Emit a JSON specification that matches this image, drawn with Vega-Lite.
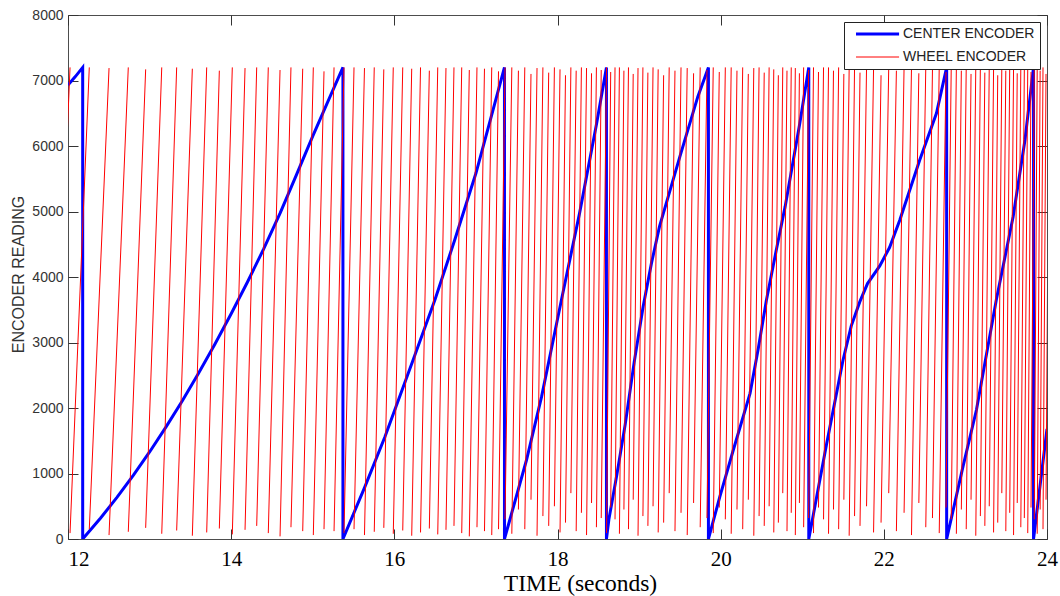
{
  "$schema": "https://vega.github.io/schema/vega-lite/v6.json",
  "width": 979,
  "height": 524,
  "autosize": "none",
  "padding": {"left": 68, "top": 15, "right": 13, "bottom": 57},
  "background": "white",
  "config": {
    "view": {"stroke": "#4d4d4d", "strokeWidth": 1},
    "axis": {"grid": false, "domain": false, "tickColor": "#333333", "tickSize": -10, "tickWidth": 1}
  },
  "datasets": {
    "center": [
      {"t": 12.0, "v": 6930}, {"t": 12.09, "v": 7060}, {"t": 12.18, "v": 7200}, {"t": 12.18, "v": 0},
      {"t": 12.4, "v": 321}, {"t": 12.6, "v": 635}, {"t": 12.8, "v": 971}, {"t": 13.0, "v": 1329},
      {"t": 13.2, "v": 1708}, {"t": 13.4, "v": 2108}, {"t": 13.6, "v": 2530}, {"t": 13.8, "v": 2973},
      {"t": 14.0, "v": 3438}, {"t": 14.2, "v": 3924}, {"t": 14.4, "v": 4432}, {"t": 14.6, "v": 4975},
      {"t": 14.8, "v": 5560}, {"t": 15.0, "v": 6150}, {"t": 15.2, "v": 6720},
      {"t": 15.37, "v": 7200}, {"t": 15.37, "v": 0},
      {"t": 15.64, "v": 800}, {"t": 15.885, "v": 1562}, {"t": 16.23, "v": 2733}, {"t": 16.5, "v": 3660},
      {"t": 16.74, "v": 4565}, {"t": 17.0, "v": 5583}, {"t": 17.21, "v": 6550}, {"t": 17.35, "v": 7200}, {"t": 17.35, "v": 0},
      {"t": 17.62, "v": 1206}, {"t": 17.805, "v": 2173}, {"t": 18.05, "v": 3660}, {"t": 18.27, "v": 4972},
      {"t": 18.48, "v": 6347}, {"t": 18.6, "v": 7200}, {"t": 18.6, "v": 0},
      {"t": 18.63, "v": 300}, {"t": 18.73, "v": 1000}, {"t": 18.83, "v": 1750}, {"t": 18.94, "v": 2700},
      {"t": 19.05, "v": 3550}, {"t": 19.15, "v": 4200}, {"t": 19.25, "v": 4768},
      {"t": 19.5, "v": 5837}, {"t": 19.72, "v": 6753}, {"t": 19.85, "v": 7200}, {"t": 19.85, "v": 0},
      {"t": 19.99, "v": 646}, {"t": 20.155, "v": 1359}, {"t": 20.36, "v": 2224}, {"t": 20.46, "v": 2900},
      {"t": 20.56, "v": 3640}, {"t": 20.68, "v": 4400},
      {"t": 20.79, "v": 5074}, {"t": 20.97, "v": 6347}, {"t": 21.08, "v": 7200}, {"t": 21.08, "v": 0},
      {"t": 21.3, "v": 1461}, {"t": 21.5, "v": 2733}, {"t": 21.6, "v": 3250}, {"t": 21.705, "v": 3620},
      {"t": 21.8, "v": 3900}, {"t": 21.95, "v": 4170}, {"t": 22.07, "v": 4450},
      {"t": 22.196, "v": 4870}, {"t": 22.44, "v": 5786}, {"t": 22.645, "v": 6499}, {"t": 22.77, "v": 7200}, {"t": 22.77, "v": 0},
      {"t": 22.97, "v": 1104}, {"t": 23.135, "v": 1969}, {"t": 23.38, "v": 3660}, {"t": 23.585, "v": 4920},
      {"t": 23.73, "v": 6092}, {"t": 23.835, "v": 7200}, {"t": 23.835, "v": 0},
      {"t": 24.0, "v": 1680}
    ],
    "wheel": [
      {"a": 11.785, "b": 12.025, "lo": 120, "hi": 7200},
      {"a": 12.025, "b": 12.261, "lo": 90, "hi": 7200},
      {"a": 12.261, "b": 12.503, "lo": 150, "hi": 7190},
      {"a": 12.503, "b": 12.739, "lo": 60, "hi": 7200},
      {"a": 12.739, "b": 12.952, "lo": 110, "hi": 7170},
      {"a": 12.952, "b": 13.149, "lo": 170, "hi": 7200},
      {"a": 13.149, "b": 13.332, "lo": 80, "hi": 7200},
      {"a": 13.332, "b": 13.524, "lo": 130, "hi": 7180},
      {"a": 13.524, "b": 13.7, "lo": 50, "hi": 7200},
      {"a": 13.7, "b": 13.855, "lo": 100, "hi": 7150},
      {"a": 13.855, "b": 14.014, "lo": 160, "hi": 7200},
      {"a": 14.014, "b": 14.17, "lo": 70, "hi": 7190},
      {"a": 14.17, "b": 14.313, "lo": 140, "hi": 7200},
      {"a": 14.313, "b": 14.455, "lo": 200, "hi": 7200},
      {"a": 14.455, "b": 14.599, "lo": 90, "hi": 7160},
      {"a": 14.599, "b": 14.733, "lo": 40, "hi": 7200},
      {"a": 14.733, "b": 14.877, "lo": 180, "hi": 7180},
      {"a": 14.877, "b": 15.007, "lo": 120, "hi": 7200},
      {"a": 15.007, "b": 15.138, "lo": 60, "hi": 7140},
      {"a": 15.138, "b": 15.261, "lo": 150, "hi": 7200},
      {"a": 15.261, "b": 15.383, "lo": 120, "hi": 7200},
      {"a": 15.383, "b": 15.506, "lo": 90, "hi": 7200},
      {"a": 15.506, "b": 15.634, "lo": 150, "hi": 7190},
      {"a": 15.634, "b": 15.754, "lo": 60, "hi": 7200},
      {"a": 15.754, "b": 15.871, "lo": 110, "hi": 7170},
      {"a": 15.871, "b": 15.987, "lo": 170, "hi": 7200},
      {"a": 15.987, "b": 16.103, "lo": 80, "hi": 7200},
      {"a": 16.103, "b": 16.213, "lo": 130, "hi": 7180},
      {"a": 16.213, "b": 16.321, "lo": 50, "hi": 7200},
      {"a": 16.321, "b": 16.429, "lo": 100, "hi": 7150},
      {"a": 16.429, "b": 16.532, "lo": 160, "hi": 7200},
      {"a": 16.532, "b": 16.633, "lo": 70, "hi": 7190},
      {"a": 16.633, "b": 16.731, "lo": 140, "hi": 7200},
      {"a": 16.731, "b": 16.826, "lo": 200, "hi": 7200},
      {"a": 16.826, "b": 16.919, "lo": 90, "hi": 7160},
      {"a": 16.919, "b": 17.013, "lo": 40, "hi": 7200},
      {"a": 17.013, "b": 17.105, "lo": 180, "hi": 7180},
      {"a": 17.105, "b": 17.194, "lo": 120, "hi": 7200},
      {"a": 17.194, "b": 17.277, "lo": 60, "hi": 7140},
      {"a": 17.277, "b": 17.357, "lo": 150, "hi": 7200},
      {"a": 17.357, "b": 17.44, "lo": 300, "hi": 7200},
      {"a": 17.44, "b": 17.521, "lo": 80, "hi": 7150},
      {"a": 17.521, "b": 17.599, "lo": 450, "hi": 7200},
      {"a": 17.599, "b": 17.675, "lo": 150, "hi": 7100},
      {"a": 17.675, "b": 17.749, "lo": 600, "hi": 7190},
      {"a": 17.749, "b": 17.821, "lo": 50, "hi": 7200},
      {"a": 17.821, "b": 17.892, "lo": 350, "hi": 7120},
      {"a": 17.892, "b": 17.962, "lo": 200, "hi": 7200},
      {"a": 17.962, "b": 18.031, "lo": 500, "hi": 7170},
      {"a": 18.031, "b": 18.098, "lo": 100, "hi": 7080},
      {"a": 18.098, "b": 18.164, "lo": 250, "hi": 7200},
      {"a": 18.164, "b": 18.229, "lo": 700, "hi": 7150},
      {"a": 18.229, "b": 18.293, "lo": 120, "hi": 7200},
      {"a": 18.293, "b": 18.356, "lo": 400, "hi": 7190},
      {"a": 18.356, "b": 18.417, "lo": 60, "hi": 7110},
      {"a": 18.417, "b": 18.477, "lo": 550, "hi": 7200},
      {"a": 18.477, "b": 18.536, "lo": 180, "hi": 7160},
      {"a": 18.536, "b": 18.601, "lo": 320, "hi": 7200},
      {"a": 18.601, "b": 18.652, "lo": 90, "hi": 7130},
      {"a": 18.652, "b": 18.705, "lo": 480, "hi": 7200},
      {"a": 18.705, "b": 18.759, "lo": 300, "hi": 7200},
      {"a": 18.759, "b": 18.814, "lo": 80, "hi": 7150},
      {"a": 18.814, "b": 18.87, "lo": 450, "hi": 7200},
      {"a": 18.87, "b": 18.928, "lo": 150, "hi": 7100},
      {"a": 18.928, "b": 18.987, "lo": 600, "hi": 7190},
      {"a": 18.987, "b": 19.047, "lo": 50, "hi": 7200},
      {"a": 19.047, "b": 19.108, "lo": 350, "hi": 7120},
      {"a": 19.108, "b": 19.171, "lo": 200, "hi": 7200},
      {"a": 19.171, "b": 19.234, "lo": 500, "hi": 7170},
      {"a": 19.234, "b": 19.301, "lo": 100, "hi": 7080},
      {"a": 19.301, "b": 19.369, "lo": 250, "hi": 7200},
      {"a": 19.369, "b": 19.44, "lo": 700, "hi": 7150},
      {"a": 19.44, "b": 19.514, "lo": 120, "hi": 7200},
      {"a": 19.514, "b": 19.59, "lo": 400, "hi": 7190},
      {"a": 19.59, "b": 19.668, "lo": 60, "hi": 7110},
      {"a": 19.668, "b": 19.749, "lo": 550, "hi": 7200},
      {"a": 19.749, "b": 19.832, "lo": 180, "hi": 7160},
      {"a": 19.832, "b": 19.909, "lo": 320, "hi": 7200},
      {"a": 19.909, "b": 19.983, "lo": 90, "hi": 7130},
      {"a": 19.983, "b": 20.057, "lo": 480, "hi": 7200},
      {"a": 20.057, "b": 20.129, "lo": 300, "hi": 7200},
      {"a": 20.129, "b": 20.2, "lo": 80, "hi": 7150},
      {"a": 20.2, "b": 20.27, "lo": 450, "hi": 7200},
      {"a": 20.27, "b": 20.339, "lo": 150, "hi": 7100},
      {"a": 20.339, "b": 20.406, "lo": 600, "hi": 7190},
      {"a": 20.406, "b": 20.471, "lo": 50, "hi": 7200},
      {"a": 20.471, "b": 20.534, "lo": 350, "hi": 7120},
      {"a": 20.534, "b": 20.594, "lo": 200, "hi": 7200},
      {"a": 20.594, "b": 20.651, "lo": 500, "hi": 7170},
      {"a": 20.651, "b": 20.707, "lo": 100, "hi": 7080},
      {"a": 20.707, "b": 20.761, "lo": 250, "hi": 7200},
      {"a": 20.761, "b": 20.813, "lo": 700, "hi": 7150},
      {"a": 20.813, "b": 20.865, "lo": 120, "hi": 7200},
      {"a": 20.865, "b": 20.915, "lo": 400, "hi": 7190},
      {"a": 20.915, "b": 20.965, "lo": 60, "hi": 7110},
      {"a": 20.965, "b": 21.017, "lo": 550, "hi": 7200},
      {"a": 21.017, "b": 21.078, "lo": 180, "hi": 7160},
      {"a": 21.078, "b": 21.138, "lo": 320, "hi": 7200},
      {"a": 21.138, "b": 21.199, "lo": 90, "hi": 7130},
      {"a": 21.199, "b": 21.261, "lo": 480, "hi": 7200},
      {"a": 21.261, "b": 21.322, "lo": 300, "hi": 7200},
      {"a": 21.322, "b": 21.383, "lo": 80, "hi": 7150},
      {"a": 21.383, "b": 21.446, "lo": 450, "hi": 7200},
      {"a": 21.446, "b": 21.51, "lo": 150, "hi": 7100},
      {"a": 21.51, "b": 21.575, "lo": 600, "hi": 7190},
      {"a": 21.575, "b": 21.641, "lo": 50, "hi": 7200},
      {"a": 21.641, "b": 21.708, "lo": 350, "hi": 7120},
      {"a": 21.708, "b": 21.788, "lo": 200, "hi": 7200},
      {"a": 21.788, "b": 21.874, "lo": 500, "hi": 7170},
      {"a": 21.874, "b": 21.966, "lo": 100, "hi": 7080},
      {"a": 21.966, "b": 22.06, "lo": 250, "hi": 7200},
      {"a": 22.06, "b": 22.154, "lo": 700, "hi": 7150},
      {"a": 22.154, "b": 22.248, "lo": 120, "hi": 7200},
      {"a": 22.248, "b": 22.339, "lo": 400, "hi": 7190},
      {"a": 22.339, "b": 22.429, "lo": 60, "hi": 7110},
      {"a": 22.429, "b": 22.514, "lo": 550, "hi": 7200},
      {"a": 22.514, "b": 22.596, "lo": 180, "hi": 7160},
      {"a": 22.596, "b": 22.679, "lo": 320, "hi": 7200},
      {"a": 22.679, "b": 22.762, "lo": 90, "hi": 7130},
      {"a": 22.762, "b": 22.826, "lo": 480, "hi": 7200},
      {"a": 22.826, "b": 22.889, "lo": 300, "hi": 7200},
      {"a": 22.889, "b": 22.95, "lo": 80, "hi": 7150},
      {"a": 22.95, "b": 23.01, "lo": 450, "hi": 7200},
      {"a": 23.01, "b": 23.069, "lo": 150, "hi": 7100},
      {"a": 23.069, "b": 23.127, "lo": 600, "hi": 7190},
      {"a": 23.127, "b": 23.183, "lo": 50, "hi": 7200},
      {"a": 23.183, "b": 23.238, "lo": 350, "hi": 7120},
      {"a": 23.238, "b": 23.292, "lo": 200, "hi": 7200},
      {"a": 23.292, "b": 23.345, "lo": 500, "hi": 7170},
      {"a": 23.345, "b": 23.396, "lo": 100, "hi": 7080},
      {"a": 23.396, "b": 23.446, "lo": 250, "hi": 7200},
      {"a": 23.446, "b": 23.495, "lo": 700, "hi": 7150},
      {"a": 23.495, "b": 23.543, "lo": 120, "hi": 7200},
      {"a": 23.543, "b": 23.59, "lo": 400, "hi": 7190},
      {"a": 23.59, "b": 23.635, "lo": 60, "hi": 7110},
      {"a": 23.635, "b": 23.679, "lo": 550, "hi": 7200},
      {"a": 23.679, "b": 23.722, "lo": 180, "hi": 7160},
      {"a": 23.722, "b": 23.764, "lo": 320, "hi": 7200},
      {"a": 23.764, "b": 23.804, "lo": 90, "hi": 7130},
      {"a": 23.804, "b": 23.844, "lo": 480, "hi": 7200},
      {"a": 23.844, "b": 23.88, "lo": 300, "hi": 7200},
      {"a": 23.88, "b": 23.916, "lo": 80, "hi": 7150},
      {"a": 23.916, "b": 23.951, "lo": 450, "hi": 7200},
      {"a": 23.951, "b": 23.988, "lo": 150, "hi": 7100},
      {"a": 23.988, "b": 24.025, "lo": 600, "hi": 7190}
    ]
  },
  "layer": [
    {
      "data": {"name": "center"},
      "mark": {"type": "line", "clip": true},
      "encoding": {
        "x": {
          "field": "t", "type": "quantitative",
          "scale": {"domain": [12, 24], "nice": false, "zero": false},
          "axis": {
            "orient": "bottom", "values": [12, 14, 16, 18, 20, 22, 24],
            "title": "TIME (seconds)",
            "labelFont": "Liberation Serif", "labelFontSize": 21, "labelColor": "#000000",
            "labelBaseline": "alphabetic", "labelPadding": 36,
            "labelAlign": {"condition": {"test": "datum.value == 12", "value": "left"}, "value": "center"},
            "titleFont": "Liberation Serif", "titleFontSize": 23.5, "titleFontWeight": "normal",
            "titleColor": "#000000", "titleX": 512, "titleY": 51, "titleBaseline": "alphabetic"
          }
        },
        "y": {
          "field": "v", "type": "quantitative",
          "scale": {"domain": [0, 8000], "nice": false, "zero": true},
          "axis": {
            "orient": "left", "values": [0, 1000, 2000, 3000, 4000, 5000, 6000, 7000, 8000],
            "format": "d", "title": "ENCODER READING",
            "labelFont": "Liberation Sans", "labelFontSize": 14, "labelColor": "#333333",
            "labelPadding": 15,
            "titleFont": "Liberation Sans", "titleFontSize": 16, "titleFontWeight": "normal",
            "titleColor": "#333333", "titleX": -45, "titleY": 259, "titleBaseline": "alphabetic"
          }
        },
        "color": {
          "datum": "CENTER ENCODER", "type": "nominal",
          "scale": {"domain": ["CENTER ENCODER", "WHEEL ENCODER"], "range": ["#0000ff", "#ff0000"]},
          "legend": {
            "title": null, "orient": "top-right", "offset": 7, "fillColor": "white", "strokeColor": "#222222",
            "padding": 5, "labelFont": "Liberation Sans", "labelFontSize": 14, "labelColor": "#222222",
            "symbolType": "M0,0H8", "symbolSize": 116, "rowPadding": 9, "labelOffset": 40
          }
        },
        "strokeWidth": {
          "datum": "CENTER ENCODER", "type": "nominal",
          "scale": {"domain": ["CENTER ENCODER", "WHEEL ENCODER"], "range": [3, 1]},
          "legend": {
            "title": null, "orient": "top-right", "offset": 7, "fillColor": "white", "strokeColor": "#222222",
            "padding": 5, "labelFont": "Liberation Sans", "labelFontSize": 14, "labelColor": "#222222",
            "symbolType": "M0,0H8", "symbolSize": 116, "rowPadding": 9, "labelOffset": 40
          }
        },
        "order": {"value": null}
      }
    },
    {
      "data": {"name": "wheel"},
      "mark": {"type": "rule", "clip": true},
      "encoding": {
        "x": {
          "field": "a", "type": "quantitative",
          "axis": {"orient": "top", "labels": false, "title": null, "values": [12, 14, 16, 18, 20, 22, 24]}
        },
        "x2": {"field": "b"},
        "y": {
          "field": "lo", "type": "quantitative",
          "axis": {"orient": "right", "labels": false, "title": null, "values": [0, 1000, 2000, 3000, 4000, 5000, 6000, 7000, 8000]}
        },
        "y2": {"field": "hi"},
        "color": {"datum": "WHEEL ENCODER", "type": "nominal"},
        "strokeWidth": {"datum": "WHEEL ENCODER", "type": "nominal"}
      }
    }
  ]
}
